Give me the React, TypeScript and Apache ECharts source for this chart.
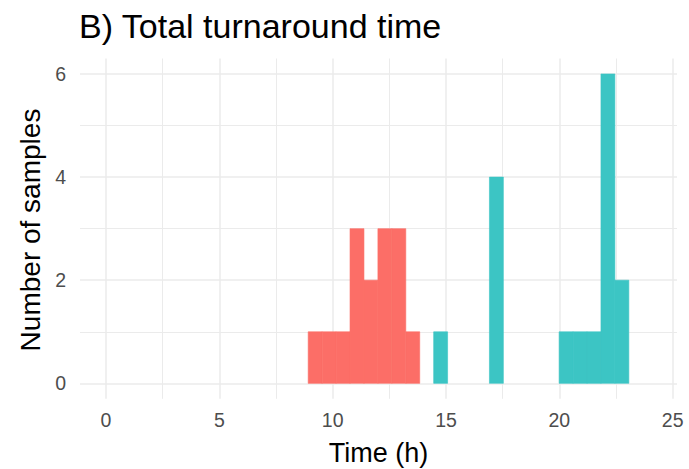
import React, { useEffect, useRef } from "react";
import * as echarts from "echarts";

const chartTitle = "B) Total turnaround time";
const xTitle = "Time (h)";
const yTitle = "Number of samples";

const binStart = 8.92;
const binWidth = 0.615;
const redCounts = [1, 1, 1, 3, 2, 3, 3, 1, 0, 0, 0, 0, 0, 0, 0, 0, 0, 0, 0, 0, 0, 0, 0];
const tealCounts = [0, 0, 0, 0, 0, 0, 0, 0, 0, 1, 0, 0, 0, 4, 0, 0, 0, 0, 1, 1, 1, 6, 2];

const redColor = "#FC6E67";
const tealColor = "#3CC5C4";
const font = "Liberation Sans, Arial, sans-serif";
const gridColor = "#EBEBEB";

function toBins(counts: number[]) {
  return counts.map((c, i) => [binStart + i * binWidth, binStart + (i + 1) * binWidth, c]);
}

function renderBar(color: string) {
  return (params: any, api: any) => {
    const x0 = api.value(0);
    const x1 = api.value(1);
    const y = api.value(2);
    if (!y) return null;
    const p0 = api.coord([x0, y]);
    const p1 = api.coord([x1, 0]);
    return {
      type: "rect",
      shape: { x: p0[0], y: p0[1], width: p1[0] - p0[0], height: p1[1] - p0[1] },
      style: { fill: color, stroke: color, lineWidth: 0.6 },
    };
  };
}

export default function App() {
  const ref = useRef<HTMLDivElement>(null);
  useEffect(() => {
    document.body.style.margin = "0";
    const chart = echarts.init(ref.current!, null, { renderer: "svg" });
    chart.setOption({
      animation: false,
      backgroundColor: "#FFFFFF",
      grid: [
        { left: 80, right: 12, top: 74, height: 309.3 },
        { left: 106, width: 566.7, top: 58.5, height: 340.3 },
      ],
      xAxis: [
        { gridIndex: 0, type: "value", min: 0, max: 25, show: false },
        {
          gridIndex: 1,
          type: "value",
          min: 0,
          max: 25,
          interval: 5,
          axisLine: { show: false },
          axisTick: { show: false },
          axisLabel: { color: "#4D4D4D", fontSize: 19.5, fontFamily: font, margin: 11 },
          splitLine: { show: true, lineStyle: { color: gridColor, width: 1.5 } },
          minorTick: { show: false, splitNumber: 2 },
          minorSplitLine: { show: true, lineStyle: { color: gridColor, width: 1 } },
        },
      ],
      yAxis: [
        {
          gridIndex: 0,
          type: "value",
          min: 0,
          max: 6,
          interval: 2,
          axisLine: { show: false },
          axisTick: { show: false },
          axisLabel: { color: "#4D4D4D", fontSize: 19.5, fontFamily: font, margin: 14 },
          splitLine: { show: true, lineStyle: { color: gridColor, width: 1.5 } },
          minorTick: { show: false, splitNumber: 2 },
          minorSplitLine: { show: true, lineStyle: { color: gridColor, width: 1 } },
        },
        { gridIndex: 1, type: "value", min: -0.3, max: 6.3, show: false },
      ],
      series: [
        {
          type: "custom",
          name: "red",
          xAxisIndex: 1,
          yAxisIndex: 1,
          encode: { x: [0, 1], y: 2 },
          data: toBins(redCounts),
          renderItem: renderBar(redColor),
        },
        {
          type: "custom",
          name: "teal",
          xAxisIndex: 1,
          yAxisIndex: 1,
          encode: { x: [0, 1], y: 2 },
          data: toBins(tealCounts),
          renderItem: renderBar(tealColor),
        },
      ],
      graphic: [
        {
          type: "text",
          x: 79,
          y: 26,
          style: {
            text: chartTitle,
            fontSize: 34,
            fontFamily: font,
            fill: "#000000",
            textAlign: "left",
            textVerticalAlign: "middle",
          },
        },
        {
          type: "text",
          x: 378.5,
          y: 453,
          style: {
            text: xTitle,
            fontSize: 27,
            fontFamily: font,
            fill: "#000000",
            textAlign: "center",
            textVerticalAlign: "middle",
          },
        },
        {
          type: "text",
          x: 30,
          y: 230,
          rotation: Math.PI / 2,
          style: {
            text: yTitle,
            fontSize: 28,
            fontFamily: font,
            fill: "#000000",
            textAlign: "center",
            textVerticalAlign: "middle",
          },
        },
      ],
    });
    return () => chart.dispose();
  }, []);
  return <div ref={ref} style={{ width: 689, height: 469 }} />;
}
